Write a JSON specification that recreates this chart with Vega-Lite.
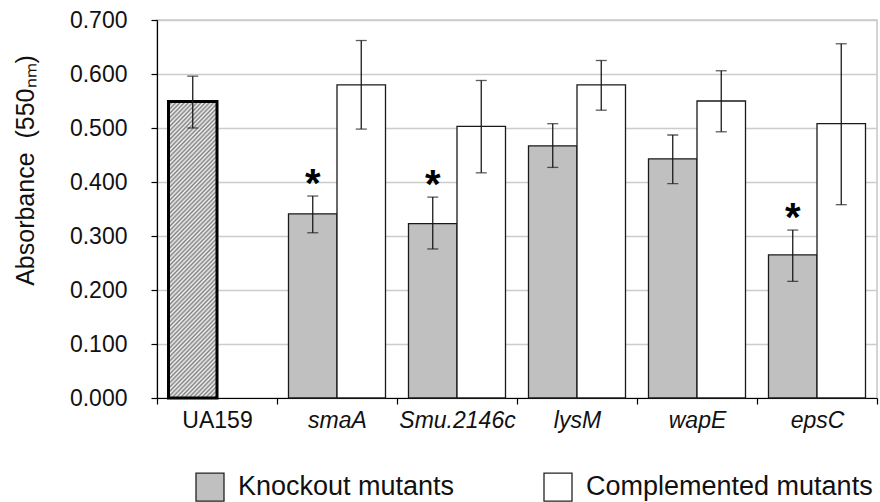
{
  "$schema": "https://vega.github.io/schema/vega-lite/v6.json",
  "autosize": "none",
  "width": 720,
  "height": 378,
  "padding": {"left": 157, "top": 20, "right": 3, "bottom": 104},
  "background": "#ffffff",
  "config": {
    "font": "Liberation Sans",
    "view": {"stroke": "#c6c6c6", "strokeWidth": 1.5},
    "axis": {"labelFont": "Liberation Sans", "titleFont": "Liberation Sans", "labelColor": "#111111", "titleColor": "#111111", "domainColor": "#000000", "tickColor": "#000000", "domainWidth": 1.2, "tickWidth": 1.2}
  },
  "data": {
    "values": [
      {"strain": "UA159", "type": "Knockout mutants", "mean": 0.549, "lo": 0.500, "hi": 0.596, "sig": false, "wt": true},
      {"strain": "smaA", "type": "Knockout mutants", "mean": 0.341, "lo": 0.306, "hi": 0.374, "sig": true, "wt": false},
      {"strain": "smaA", "type": "Complemented mutants", "mean": 0.580, "lo": 0.498, "hi": 0.662, "sig": false, "wt": false},
      {"strain": "Smu.2146c", "type": "Knockout mutants", "mean": 0.323, "lo": 0.276, "hi": 0.372, "sig": true, "wt": false},
      {"strain": "Smu.2146c", "type": "Complemented mutants", "mean": 0.503, "lo": 0.417, "hi": 0.588, "sig": false, "wt": false},
      {"strain": "lysM", "type": "Knockout mutants", "mean": 0.467, "lo": 0.427, "hi": 0.508, "sig": false, "wt": false},
      {"strain": "lysM", "type": "Complemented mutants", "mean": 0.580, "lo": 0.533, "hi": 0.625, "sig": false, "wt": false},
      {"strain": "wapE", "type": "Knockout mutants", "mean": 0.443, "lo": 0.397, "hi": 0.487, "sig": false, "wt": false},
      {"strain": "wapE", "type": "Complemented mutants", "mean": 0.550, "lo": 0.493, "hi": 0.606, "sig": false, "wt": false},
      {"strain": "epsC", "type": "Knockout mutants", "mean": 0.265, "lo": 0.216, "hi": 0.311, "sig": true, "wt": false},
      {"strain": "epsC", "type": "Complemented mutants", "mean": 0.508, "lo": 0.358, "hi": 0.656, "sig": false, "wt": false}
    ]
  },
  "encoding": {
    "x": {
      "field": "strain", "type": "nominal",
      "scale": {"domain": ["UA159", "smaA", "Smu.2146c", "lysM", "wapE", "epsC"], "paddingInner": 0, "paddingOuter": 0},
      "axis": {
        "title": null, "labelAngle": 0, "tickBand": "extent", "tickSize": 6, "labelPadding": 5, "labelFontSize": 23, "grid": false,
        "labelFontStyle": {"condition": {"test": "datum.value != 'UA159'", "value": "italic"}, "value": "normal"}
      }
    },
    "xOffset": {
      "field": "type", "type": "nominal",
      "scale": {"domain": ["Knockout mutants", "Complemented mutants"], "paddingInner": 0, "paddingOuter": 0.237}
    }
  },
  "layer": [
    {
      "transform": [{"filter": "!datum.wt"}],
      "mark": {"type": "bar", "stroke": "#1a1a1a", "strokeWidth": 1.3},
      "encoding": {
        "y": {
          "field": "mean", "type": "quantitative",
          "scale": {"domain": [0, 0.7]},
          "axis": {
            "values": [0, 0.1, 0.2, 0.3, 0.4, 0.5, 0.6, 0.7], "format": ".3f", "grid": true, "gridColor": "#cccccc", "gridWidth": 1.5,
            "tickSize": 6, "labelPadding": 24, "labelFontSize": 23,
            "title": "Absorbance\u00a0\u00a0(550ₙₘ)", "titleFontSize": 25, "titleFontWeight": "normal",
            "titleAngle": -90, "titleAlign": "center", "titleBaseline": "middle", "titleX": -132, "titleY": 150
          }
        },
        "fill": {
          "field": "type", "type": "nominal",
          "scale": {"domain": ["Knockout mutants", "Complemented mutants"], "range": ["#c0c0c0", "#ffffff"]},
          "legend": {
            "title": null, "orient": "none", "legendX": 38, "legendY": 452, "direction": "horizontal", "padding": 0,
            "symbolType": "square", "symbolSize": 784, "symbolStrokeColor": "#222222", "symbolStrokeWidth": 1.3,
            "labelFontSize": 27, "labelFont": "Liberation Sans", "labelColor": "#111111", "labelOffset": 13, "labelLimit": 500, "columnPadding": 86
          }
        }
      }
    },
    {
      "transform": [{"filter": "datum.wt"}],
      "mark": {
        "type": "bar", "stroke": "#000000", "strokeWidth": 3,
        "fill": {
          "gradient": "linear", "x1": 0, "y1": 0, "x2": 0.1922, "y2": 1.14,
          "stops": [
            {"offset": 0, "color": "#808080"}, {"offset": 0.00625, "color": "#f4f4f4"}, {"offset": 0.0125, "color": "#808080"}, {"offset": 0.01875, "color": "#f4f4f4"},
            {"offset": 0.025, "color": "#808080"}, {"offset": 0.03125, "color": "#f4f4f4"}, {"offset": 0.0375, "color": "#808080"}, {"offset": 0.04375, "color": "#f4f4f4"},
            {"offset": 0.05, "color": "#808080"}, {"offset": 0.05625, "color": "#f4f4f4"}, {"offset": 0.0625, "color": "#808080"}, {"offset": 0.06875, "color": "#f4f4f4"},
            {"offset": 0.075, "color": "#808080"}, {"offset": 0.08125, "color": "#f4f4f4"}, {"offset": 0.0875, "color": "#808080"}, {"offset": 0.09375, "color": "#f4f4f4"},
            {"offset": 0.1, "color": "#808080"}, {"offset": 0.10625, "color": "#f4f4f4"}, {"offset": 0.1125, "color": "#808080"}, {"offset": 0.11875, "color": "#f4f4f4"},
            {"offset": 0.125, "color": "#808080"}, {"offset": 0.13125, "color": "#f4f4f4"}, {"offset": 0.1375, "color": "#808080"}, {"offset": 0.14375, "color": "#f4f4f4"},
            {"offset": 0.15, "color": "#808080"}, {"offset": 0.15625, "color": "#f4f4f4"}, {"offset": 0.1625, "color": "#808080"}, {"offset": 0.16875, "color": "#f4f4f4"},
            {"offset": 0.175, "color": "#808080"}, {"offset": 0.18125, "color": "#f4f4f4"}, {"offset": 0.1875, "color": "#808080"}, {"offset": 0.19375, "color": "#f4f4f4"},
            {"offset": 0.2, "color": "#808080"}, {"offset": 0.20625, "color": "#f4f4f4"}, {"offset": 0.2125, "color": "#808080"}, {"offset": 0.21875, "color": "#f4f4f4"},
            {"offset": 0.225, "color": "#808080"}, {"offset": 0.23125, "color": "#f4f4f4"}, {"offset": 0.2375, "color": "#808080"}, {"offset": 0.24375, "color": "#f4f4f4"},
            {"offset": 0.25, "color": "#808080"}, {"offset": 0.25625, "color": "#f4f4f4"}, {"offset": 0.2625, "color": "#808080"}, {"offset": 0.26875, "color": "#f4f4f4"},
            {"offset": 0.275, "color": "#808080"}, {"offset": 0.28125, "color": "#f4f4f4"}, {"offset": 0.2875, "color": "#808080"}, {"offset": 0.29375, "color": "#f4f4f4"},
            {"offset": 0.3, "color": "#808080"}, {"offset": 0.30625, "color": "#f4f4f4"}, {"offset": 0.3125, "color": "#808080"}, {"offset": 0.31875, "color": "#f4f4f4"},
            {"offset": 0.325, "color": "#808080"}, {"offset": 0.33125, "color": "#f4f4f4"}, {"offset": 0.3375, "color": "#808080"}, {"offset": 0.34375, "color": "#f4f4f4"},
            {"offset": 0.35, "color": "#808080"}, {"offset": 0.35625, "color": "#f4f4f4"}, {"offset": 0.3625, "color": "#808080"}, {"offset": 0.36875, "color": "#f4f4f4"},
            {"offset": 0.375, "color": "#808080"}, {"offset": 0.38125, "color": "#f4f4f4"}, {"offset": 0.3875, "color": "#808080"}, {"offset": 0.39375, "color": "#f4f4f4"},
            {"offset": 0.4, "color": "#808080"}, {"offset": 0.40625, "color": "#f4f4f4"}, {"offset": 0.4125, "color": "#808080"}, {"offset": 0.41875, "color": "#f4f4f4"},
            {"offset": 0.425, "color": "#808080"}, {"offset": 0.43125, "color": "#f4f4f4"}, {"offset": 0.4375, "color": "#808080"}, {"offset": 0.44375, "color": "#f4f4f4"},
            {"offset": 0.45, "color": "#808080"}, {"offset": 0.45625, "color": "#f4f4f4"}, {"offset": 0.4625, "color": "#808080"}, {"offset": 0.46875, "color": "#f4f4f4"},
            {"offset": 0.475, "color": "#808080"}, {"offset": 0.48125, "color": "#f4f4f4"}, {"offset": 0.4875, "color": "#808080"}, {"offset": 0.49375, "color": "#f4f4f4"},
            {"offset": 0.5, "color": "#808080"}, {"offset": 0.50625, "color": "#f4f4f4"}, {"offset": 0.5125, "color": "#808080"}, {"offset": 0.51875, "color": "#f4f4f4"},
            {"offset": 0.525, "color": "#808080"}, {"offset": 0.53125, "color": "#f4f4f4"}, {"offset": 0.5375, "color": "#808080"}, {"offset": 0.54375, "color": "#f4f4f4"},
            {"offset": 0.55, "color": "#808080"}, {"offset": 0.55625, "color": "#f4f4f4"}, {"offset": 0.5625, "color": "#808080"}, {"offset": 0.56875, "color": "#f4f4f4"},
            {"offset": 0.575, "color": "#808080"}, {"offset": 0.58125, "color": "#f4f4f4"}, {"offset": 0.5875, "color": "#808080"}, {"offset": 0.59375, "color": "#f4f4f4"},
            {"offset": 0.6, "color": "#808080"}, {"offset": 0.60625, "color": "#f4f4f4"}, {"offset": 0.6125, "color": "#808080"}, {"offset": 0.61875, "color": "#f4f4f4"},
            {"offset": 0.625, "color": "#808080"}, {"offset": 0.63125, "color": "#f4f4f4"}, {"offset": 0.6375, "color": "#808080"}, {"offset": 0.64375, "color": "#f4f4f4"},
            {"offset": 0.65, "color": "#808080"}, {"offset": 0.65625, "color": "#f4f4f4"}, {"offset": 0.6625, "color": "#808080"}, {"offset": 0.66875, "color": "#f4f4f4"},
            {"offset": 0.675, "color": "#808080"}, {"offset": 0.68125, "color": "#f4f4f4"}, {"offset": 0.6875, "color": "#808080"}, {"offset": 0.69375, "color": "#f4f4f4"},
            {"offset": 0.7, "color": "#808080"}, {"offset": 0.70625, "color": "#f4f4f4"}, {"offset": 0.7125, "color": "#808080"}, {"offset": 0.71875, "color": "#f4f4f4"},
            {"offset": 0.725, "color": "#808080"}, {"offset": 0.73125, "color": "#f4f4f4"}, {"offset": 0.7375, "color": "#808080"}, {"offset": 0.74375, "color": "#f4f4f4"},
            {"offset": 0.75, "color": "#808080"}, {"offset": 0.75625, "color": "#f4f4f4"}, {"offset": 0.7625, "color": "#808080"}, {"offset": 0.76875, "color": "#f4f4f4"},
            {"offset": 0.775, "color": "#808080"}, {"offset": 0.78125, "color": "#f4f4f4"}, {"offset": 0.7875, "color": "#808080"}, {"offset": 0.79375, "color": "#f4f4f4"},
            {"offset": 0.8, "color": "#808080"}, {"offset": 0.80625, "color": "#f4f4f4"}, {"offset": 0.8125, "color": "#808080"}, {"offset": 0.81875, "color": "#f4f4f4"},
            {"offset": 0.825, "color": "#808080"}, {"offset": 0.83125, "color": "#f4f4f4"}, {"offset": 0.8375, "color": "#808080"}, {"offset": 0.84375, "color": "#f4f4f4"},
            {"offset": 0.85, "color": "#808080"}, {"offset": 0.85625, "color": "#f4f4f4"}, {"offset": 0.8625, "color": "#808080"}, {"offset": 0.86875, "color": "#f4f4f4"},
            {"offset": 0.875, "color": "#808080"}, {"offset": 0.88125, "color": "#f4f4f4"}, {"offset": 0.8875, "color": "#808080"}, {"offset": 0.89375, "color": "#f4f4f4"},
            {"offset": 0.9, "color": "#808080"}, {"offset": 0.90625, "color": "#f4f4f4"}, {"offset": 0.9125, "color": "#808080"}, {"offset": 0.91875, "color": "#f4f4f4"},
            {"offset": 0.925, "color": "#808080"}, {"offset": 0.93125, "color": "#f4f4f4"}, {"offset": 0.9375, "color": "#808080"}, {"offset": 0.94375, "color": "#f4f4f4"},
            {"offset": 0.95, "color": "#808080"}, {"offset": 0.95625, "color": "#f4f4f4"}, {"offset": 0.9625, "color": "#808080"}, {"offset": 0.96875, "color": "#f4f4f4"},
            {"offset": 0.975, "color": "#808080"}, {"offset": 0.98125, "color": "#f4f4f4"}, {"offset": 0.9875, "color": "#808080"}, {"offset": 0.99375, "color": "#f4f4f4"},
            {"offset": 1, "color": "#808080"}
          ]
        }
      },
      "encoding": {
        "y": {"field": "mean", "type": "quantitative"}
      }
    },
    {
      "mark": {"type": "rule", "color": "#1a1a1a", "strokeWidth": 1.3},
      "encoding": {
        "y": {"field": "lo", "type": "quantitative"},
        "y2": {"field": "hi"}
      }
    },
    {
      "mark": {"type": "tick", "color": "#1a1a1a", "thickness": 1.3, "size": 11},
      "encoding": {"y": {"field": "hi", "type": "quantitative"}}
    },
    {
      "mark": {"type": "tick", "color": "#1a1a1a", "thickness": 1.3, "size": 11},
      "encoding": {"y": {"field": "lo", "type": "quantitative"}}
    },
    {
      "transform": [{"filter": "datum.sig"}],
      "mark": {"type": "text", "text": "*", "fontSize": 40, "fontWeight": "bold", "font": "Liberation Sans", "baseline": "alphabetic", "align": "center", "dy": 1, "color": "#000000"},
      "encoding": {"y": {"field": "hi", "type": "quantitative"}}
    }
  ]
}
